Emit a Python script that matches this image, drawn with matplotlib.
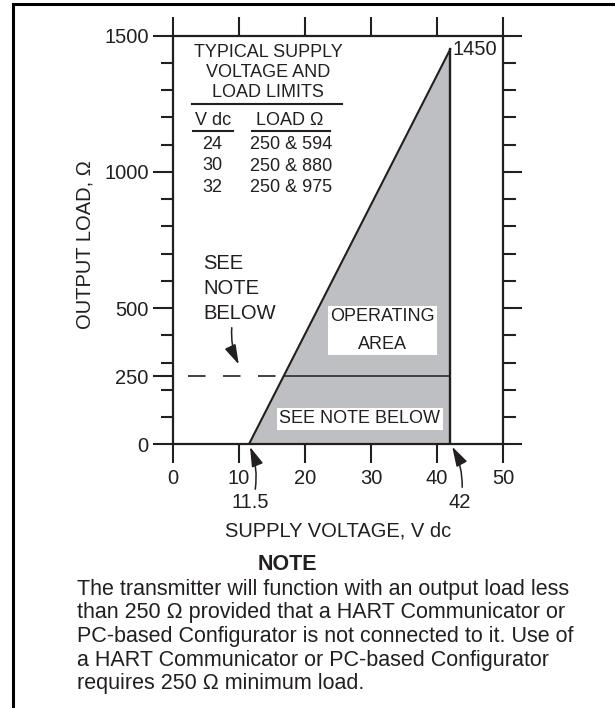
import matplotlib.pyplot as plt
from matplotlib.patches import FancyArrowPatch
from matplotlib.lines import Line2D

plt.rcParams['font.family'] = ['Liberation Sans', 'DejaVu Sans']

INK = '#231f20'
GRAY = '#bebfc3'

# operating envelope
min_supply = 11.5     # V dc at 0 ohm
max_supply = 42.0     # V dc
max_load = 1450       # ohm at max supply
hart_load = 250       # ohm needed for HART

area_v = [min_supply, max_supply, max_supply]
area_r = [0, 0, max_load]

# typical limits table
table_vdc = ['24', '30', '32']
table_load = ['250 & 594', '250 & 880', '250 & 975']

x_ticks = [0, 10, 20, 30, 40, 50]
y_ticks = [0, 250, 500, 1000, 1500]
y_minor = list(range(100, 1500, 100))
y_right = [0, 500, 1000, 1500]

note_lines = [
    'The transmitter will function with an output load less',
    'than 250 \u03a9 provided that a HART Communicator or',
    'PC-based Configurator is not connected to it. Use of',
    'a HART Communicator or PC-based Configurator',
    'requires 250 \u03a9 minimum load.',
]

FS = 14.5        # axis text
FS_SMALL = 13    # table and boxed labels
FS_NOTE = 15.5

fig = plt.figure(figsize=(6.15, 7.08), dpi=100)
ax = fig.add_axes([0.2813, 0.3725, 0.5366, 0.5771])
ax.set_xlim(0, 50)
ax.set_ylim(0, 1500)

# shaded operating area
ax.fill(area_v, area_r, color=GRAY, lw=0, zorder=1)
ax.plot([min_supply, max_supply], [0, max_load], color=INK, lw=1.5, zorder=3)
ax.plot([max_supply, max_supply], [0, max_load], color=INK, lw=1.7, zorder=3)
v_hart = min_supply + hart_load * (max_supply - min_supply) / max_load
ax.plot([v_hart, max_supply], [hart_load, hart_load], color=INK, lw=1.1, zorder=3)
ax.plot([2.2, v_hart], [hart_load, hart_load], color=INK, lw=1.2,
        linestyle=(0, (10.5, 10.5)), zorder=3)

# axes and ticks
for s in ax.spines.values():
    s.set_linewidth(1.6)
    s.set_color(INK)
ax.set_xticks(x_ticks)
ax.set_yticks(y_ticks)
ax.set_yticks(y_minor, minor=True)
ax.tick_params(axis='x', which='major', direction='out', length=14, width=1.5,
               top=True, bottom=True, labeltop=False, labelsize=FS, pad=4,
               color=INK, labelcolor=INK)
ax.tick_params(axis='y', which='major', direction='out', length=14.5, width=1.5,
               left=True, right=False, labelsize=FS, pad=3, color=INK,
               labelcolor=INK)
ax.tick_params(axis='y', which='minor', direction='out', length=9, width=1.5,
               left=True, right=False, color=INK)

axr = ax.twinx()
axr.set_ylim(0, 1500)
axr.set_yticks(y_right)
axr.set_yticks(y_minor, minor=True)
axr.tick_params(axis='y', which='major', direction='out', length=14, width=1.5,
                labelright=False, color=INK)
axr.tick_params(axis='y', which='minor', direction='out', length=9, width=1.5,
                color=INK)
for s in axr.spines.values():
    s.set_visible(False)

ax.text(-0.267, 0.488, 'OUTPUT LOAD, \u03a9', transform=ax.transAxes, rotation=90,
        ha='center', va='center', fontsize=FS, color=INK)
ax.text(25, -318, 'SUPPLY VOLTAGE, V dc', ha='center', va='center',
        fontsize=FS, color=INK, clip_on=False)

# table
small = dict(ha='center', va='center', fontsize=FS_SMALL, color=INK)
for i, line in enumerate(['TYPICAL SUPPLY', 'VOLTAGE AND', 'LOAD LIMITS']):
    ax.text(14.4, 1440 - i * 75, line, **small)
ax.plot([2.9, 25.6], [1249, 1249], color=INK, lw=1.5)
ax.text(6.06, 1190, 'V dc', **small)
ax.text(17.7, 1190, 'LOAD \u03a9', **small)
ax.plot([3.0, 9.1], [1150, 1150], color=INK, lw=1.5)
ax.plot([12.0, 23.8], [1150, 1150], color=INK, lw=1.5)
for i, (v, r) in enumerate(zip(table_vdc, table_load)):
    ax.text(5.9, 1102 - i * 79, v, **small)
    ax.text(17.9, 1099 - i * 79, r, **small)

# labels inside plot
ax.text(max_supply + 0.3, max_load, f'{max_load}', ha='left', va='center',
        fontsize=FS, color=INK)
for i, line in enumerate(['SEE', 'NOTE', 'BELOW']):
    ax.text(4.55, 665 - i * 92, line, ha='left', va='center', fontsize=FS, color=INK)
ax.text(31.8, 418, 'OPERATING\nAREA', linespacing=1.8,
        bbox=dict(facecolor='white', edgecolor='none', boxstyle='square,pad=0.12'),
        **small)
ax.text(28.3, 93, 'SEE NOTE BELOW',
        bbox=dict(facecolor='white', edgecolor='none', boxstyle='square,pad=0.14'),
        **small)

# arrows
def arrow(tail, tip):
    a = FancyArrowPatch(tail, tip, arrowstyle='-|>,head_length=1.0,head_width=0.3',
                        mutation_scale=12, connectionstyle='arc3,rad=0.15',
                        color=INK, lw=1.1, clip_on=False, zorder=5)
    ax.add_patch(a)

arrow((8.94, 438), (10.15, 284))
arrow((12.4, -175), (min_supply, 0))
arrow((43.8, -168), (max_supply + 0.1, 0))
ax.text(11.7, -215, f'{min_supply}', ha='center', va='center', fontsize=FS,
        color=INK, clip_on=False)
ax.text(43.5, -215, f'{max_supply:.0f}', ha='center', va='center', fontsize=FS,
        color=INK, clip_on=False)

# note
fig.text(287 / 615, 1 - 564 / 708, 'NOTE', ha='center', va='center',
         fontsize=FS_NOTE, fontweight='bold', color=INK)
for i, line in enumerate(note_lines):
    fig.text(77 / 615, 1 - (589 + i * 23.7) / 708, line, ha='left', va='center',
             fontsize=FS_NOTE, color=INK)

# frame
fig.add_artist(Line2D([12.5 / 615, 12.5 / 615], [0, 1 - 3.5 / 708], color='black', lw=2.2))
fig.add_artist(Line2D([12.5 / 615, 1], [1 - 3.5 / 708, 1 - 3.5 / 708], color='black', lw=2.2))

fig.savefig('out.png', dpi=100)
